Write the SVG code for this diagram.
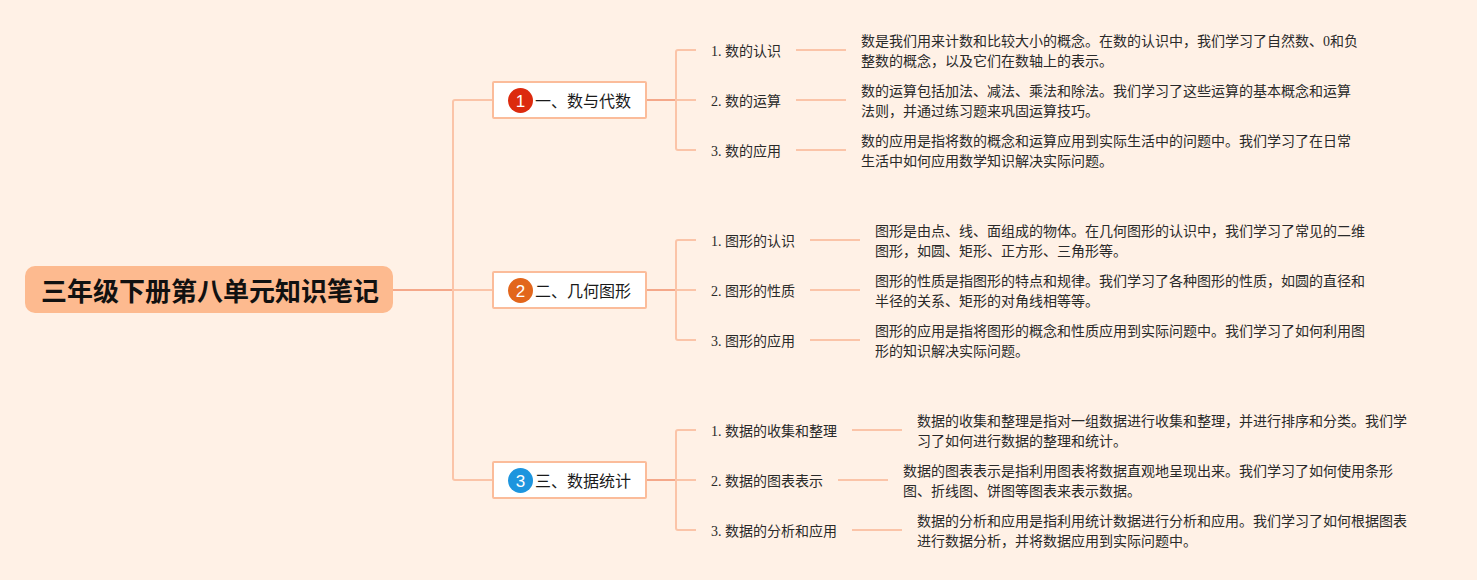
<svg xmlns="http://www.w3.org/2000/svg" width="1477" height="580" viewBox="0 0 1477 580">
<style>
text{font-family:"Liberation Serif","Noto Sans CJK SC",serif;fill:#2a2a2a}
.t{font-size:14px}
.b{font-size:16px;font-family:"Noto Sans CJK SC","Liberation Sans",sans-serif;fill:#1a1a1a}
.r{font-size:26px;font-weight:700;font-family:"Noto Sans CJK SC","Liberation Sans",sans-serif;fill:#111}
.n{font-size:17px;font-family:"Liberation Sans","Noto Sans",sans-serif;fill:#fff;text-anchor:middle}
.box{fill:#fff;stroke:#fbbc9a;stroke-width:2}
.c{fill:none;stroke:#fbc4a8;stroke-width:2}
.m{fill:none;stroke:#f5a88a;stroke-width:2}
</style>
<rect width="1477" height="580" fill="#fff1e6"/>
<g id="connectors">
<path class="m" d="M393 290H453"/>
<path class="c" d="M493 100H455Q453 100 453 102V478Q453 480 455 480H493M453 290H493"/>
<path class="m" d="M647 100H676M647 290H676M647 480H676"/>
<path class="c" d="M696 50H678Q676 50 676 52V148Q676 150 678 150H696M676 100H696"/>
<path class="c" d="M696 240H678Q676 240 676 242V338Q676 340 678 340H696M676 290H696"/>
<path class="c" d="M696 430H678Q676 430 676 432V528Q676 530 678 530H696M676 480H696"/>
<path class="c" d="M796 50H846M796 100H846M796 150H846M810 240H860M810 290H860M810 340H860M852 430H902M838 480H888M852 530H902"/>
</g>
<g id="root"><rect x="25" y="266" width="368" height="47" rx="10" fill="#fdba8f"/><text class="r" x="41" y="301">三年级下册第八单元知识笔记</text></g>
<g id="b1"><rect class="box" x="493" y="82" width="153" height="36" rx="1"/><circle cx="520.500" cy="100.500" r="12.500" fill="#dc2a0e"/><text class="n" x="520.500" y="106.500">1</text><text class="b" x="535" y="107">一、数与代数</text></g>
<g id="b2"><rect class="box" x="493" y="272" width="153" height="36" rx="1"/><circle cx="520.500" cy="290.500" r="12.500" fill="#e2661c"/><text class="n" x="520.500" y="296.500">2</text><text class="b" x="535" y="297">二、几何图形</text></g>
<g id="b3"><rect class="box" x="493" y="462" width="153" height="36" rx="1"/><circle cx="520.500" cy="480.500" r="12.500" fill="#1d95de"/><text class="n" x="520.500" y="486.500">3</text><text class="b" x="535" y="487">三、数据统计</text></g>
<g id="n11"><text class="t" x="711" y="56">1. 数的认识</text></g>
<g id="n12"><text class="t" x="711" y="106">2. 数的运算</text></g>
<g id="n13"><text class="t" x="711" y="156">3. 数的应用</text></g>
<g id="n21"><text class="t" x="711" y="246">1. 图形的认识</text></g>
<g id="n22"><text class="t" x="711" y="296">2. 图形的性质</text></g>
<g id="n23"><text class="t" x="711" y="346">3. 图形的应用</text></g>
<g id="n31"><text class="t" x="711" y="436">1. 数据的收集和整理</text></g>
<g id="n32"><text class="t" x="711" y="486">2. 数据的图表表示</text></g>
<g id="n33"><text class="t" x="711" y="536">3. 数据的分析和应用</text></g>
<g id="d11"><text class="t" x="861" y="46">数是我们用来计数和比较大小的概念。在数的认识中，我们学习了自然数、0和负</text><text class="t" x="861" y="66">整数的概念，以及它们在数轴上的表示。</text></g>
<g id="d12"><text class="t" x="861" y="96">数的运算包括加法、减法、乘法和除法。我们学习了这些运算的基本概念和运算</text><text class="t" x="861" y="116">法则，并通过练习题来巩固运算技巧。</text></g>
<g id="d13"><text class="t" x="861" y="146">数的应用是指将数的概念和运算应用到实际生活中的问题中。我们学习了在日常</text><text class="t" x="861" y="166">生活中如何应用数学知识解决实际问题。</text></g>
<g id="d21"><text class="t" x="875" y="236">图形是由点、线、面组成的物体。在几何图形的认识中，我们学习了常见的二维</text><text class="t" x="875" y="256">图形，如圆、矩形、正方形、三角形等。</text></g>
<g id="d22"><text class="t" x="875" y="286">图形的性质是指图形的特点和规律。我们学习了各种图形的性质，如圆的直径和</text><text class="t" x="875" y="306">半径的关系、矩形的对角线相等等。</text></g>
<g id="d23"><text class="t" x="875" y="336">图形的应用是指将图形的概念和性质应用到实际问题中。我们学习了如何利用图</text><text class="t" x="875" y="356">形的知识解决实际问题。</text></g>
<g id="d31"><text class="t" x="917" y="426">数据的收集和整理是指对一组数据进行收集和整理，并进行排序和分类。我们学</text><text class="t" x="917" y="446">习了如何进行数据的整理和统计。</text></g>
<g id="d32"><text class="t" x="903" y="476">数据的图表表示是指利用图表将数据直观地呈现出来。我们学习了如何使用条形</text><text class="t" x="903" y="496">图、折线图、饼图等图表来表示数据。</text></g>
<g id="d33"><text class="t" x="917" y="526">数据的分析和应用是指利用统计数据进行分析和应用。我们学习了如何根据图表</text><text class="t" x="917" y="546">进行数据分析，并将数据应用到实际问题中。</text></g>
</svg>
